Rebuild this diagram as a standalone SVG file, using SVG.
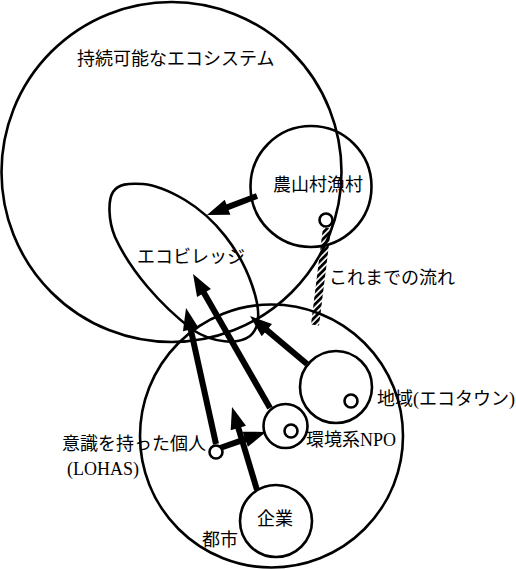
<svg xmlns="http://www.w3.org/2000/svg" width="516" height="569" viewBox="0 0 516 569">
<style>
.c{fill:none;stroke:#000;stroke-width:2.6}
.d{fill:#fff;stroke:#000;stroke-width:2.6}
.a{fill:none;stroke:#000;stroke-width:6;marker-end:url(#ah)}
text{font-family:"Liberation Serif","Noto Sans CJK JP",serif;font-size:18px;fill:#000}
</style>
<defs>
<marker id="ah" markerUnits="userSpaceOnUse" markerWidth="22" markerHeight="16" refX="4" refY="8" orient="auto" overflow="visible">
<path d="M0,0 L22,8 L0,16 Z" fill="#000"/>
</marker>
<pattern id="hatch" width="4.5" height="4.5" patternUnits="userSpaceOnUse" patternTransform="rotate(45)">
<rect x="0" y="0" width="2.8" height="4.5" fill="#000"/>
</pattern>
</defs>
<rect width="516" height="569" fill="#fff"/>
<g id="ecosystem">
<circle class="c" cx="171.5" cy="172" r="170"/>
<text x="77" y="65">持続可能なエコシステム</text>
</g>
<g id="rural">
<circle class="c" cx="311" cy="186.5" r="60.5"/>
<text x="273" y="191">農山村漁村</text>
</g>
<g id="city">
<circle class="c" cx="271.5" cy="436" r="131.5"/>
<text x="202" y="546">都市</text>
</g>
<g id="ecovillage">
<path class="c" d="M113,192 C118,184 128,183 143,184 C155,185 168,190 185,200 C215,218 240,250 252,285 C259,305 262,326 250,336 C238,345 213,343 193,330 C160,305 130,270 115,237 C108,220 108,200 113,192 Z"/>
<text x="137" y="263">エコビレッジ</text>
</g>
<g id="region">
<circle class="c" cx="336" cy="387" r="36"/>
<text x="377" y="405">地域(エコタウン)</text>
</g>
<g id="npo">
<circle class="c" cx="285.5" cy="426" r="22"/>
<text x="306" y="446">環境系NPO</text>
</g>
<g id="company">
<circle class="c" cx="276" cy="521" r="36"/>
<text x="257" y="525">企業</text>
</g>
<g id="flow">
<polygon points="331,228.5 319,325.5 311,324.5 323,227.5" fill="url(#hatch)"/>
<text x="329" y="284">これまでの流れ</text>
</g>
<g id="connectors">
<line class="a" x1="257" y1="196" x2="223.8" y2="208.6"/>
<line class="a" x1="216" y1="444" x2="189.9" y2="325.6"/>
<line class="a" x1="270" y1="408" x2="202" y2="289.6"/>
<line class="a" x1="307" y1="364" x2="263.8" y2="327.6"/>
<line class="a" x1="257" y1="490" x2="237.2" y2="424.2"/>
<line class="a" x1="220" y1="448" x2="249" y2="437.9"/>
</g>
<g id="individual">
<circle class="d" cx="216" cy="452" r="6.5"/>
<text x="62" y="450">意識を持った個人</text>
<text x="67" y="475">(LOHAS)</text>
</g>
<g id="dots">
<circle class="d" cx="326" cy="220" r="6.5"/>
<circle class="d" cx="351" cy="401" r="6.5"/>
<circle class="d" cx="291" cy="431" r="6.5"/>
</g>
</svg>
